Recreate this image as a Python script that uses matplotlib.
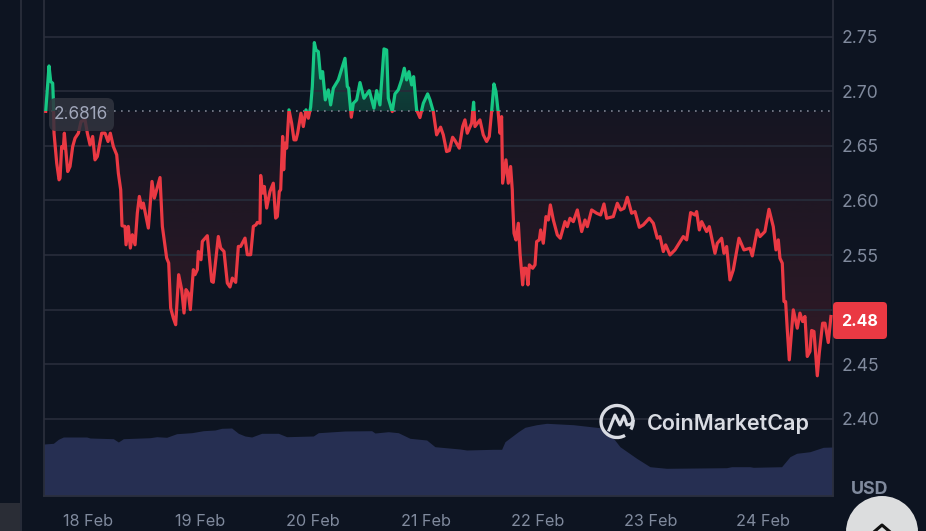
#Price chart with volume underneath, dark theme
import numpy as np
import matplotlib
matplotlib.use("Agg")
import matplotlib.pyplot as plt
from matplotlib.patches import Arc, Circle, FancyBboxPatch, Rectangle

plt.rcParams['font.family'] = ['Inter', 'DejaVu Sans']

#hours since 18 Feb 00:00
hours = [-9.03, -8.32, -7.96, -7.54, -7.39, -7.25, -6.68, -6.18, -5.97, -5.62, -5.26, -5.05, -4.69, -4.34, -3.84, -3.27, -2.77, -2.06, -1.49, -0.64,
    -0.14, 0.43, 0.99, 1.49, 1.99, 2.91, 3.63, 4.27, 4.76, 5.40, 6.12, 6.47, 6.97, 7.25, 7.89, 8.11, 8.60, 9.03, 9.46, 10.03,
    10.52, 10.95, 11.45, 11.80, 12.87, 13.65, 14.15, 14.65, 15.36, 15.86, 16.78, 17.21, 17.63, 18.20, 18.70, 19.34, 19.98, 20.48, 20.90, 21.40,
    21.83, 22.47, 22.82, 23.32, 23.53, 24.10, 24.39, 25.45, 26.38, 26.73, 27.80, 28.30, 29.01, 29.72, 30.29, 30.79, 31.50, 32.07, 32.56, 33.49,
    33.99, 34.70, 35.27, 35.84, 36.12, 36.69, 36.83, 37.26, 37.61, 38.11, 38.82, 39.53, 40.03, 40.39, 40.81, 41.10, 41.52, 41.74, 42.02, 42.38,
    42.87, 43.44, 43.94, 44.37, 44.72, 45.43, 45.93, 46.50, 47.00, 47.49, 47.85, 48.28, 48.63, 49.13, 49.63, 50.05, 50.62, 51.26, 51.76, 52.33,
    53.40, 54.82, 55.32, 55.60, 56.17, 56.60, 57.31, 58.02, 58.87, 60.01, 61.00, 61.57, 62.28, 63.14, 63.71, 64.06, 64.91, 65.48, 66.19, 66.90,
    67.47, 67.97, 68.47, 69.04, 69.46, 70.10, 70.81, 71.53, 72.45, 72.95, 73.66, 74.37, 75.22, 75.79, 76.50, 77.07, 77.78, 78.28, 79.20, 79.92,
    80.41, 80.91, 81.84, 82.26, 82.55, 83.61, 84.32, 85.04, 85.60, 86.10, 86.60, 87.03, 87.45, 87.88, 88.23, 88.45, 89.16, 89.66, 90.15, 90.51,
    90.59, 90.88, 91.30, 91.80, 92.16, 92.72, 93.01, 93.44, 93.86, 94.15, 94.86, 95.36, 95.71, 96.28, 96.56, 97.13, 97.70, 98.20, 98.63, 99.27,
    100.12, 100.76, 101.75, 102.25, 102.82, 103.53, 104.39, 105.31, 106.02, 106.52, 107.44, 108.51, 109.36, 110.07, 110.64, 112.06, 112.92, 113.63, 114.34, 115.05,
    115.97, 116.69, 117.61, 118.46, 119.74, 120.60, 121.45, 122.02, 122.73, 123.23, 124.15, 125.22, 126.99, 127.71, 128.56, 129.48, 129.84, 130.41, 130.91, 131.97,
    132.54, 133.75, 134.25, 135.17, 135.67, 136.24, 136.95, 137.66, 138.87, 139.93, 141.21, 141.71, 142.78, 143.35, 144.41, 145.27, 146.19, 146.76, 147.26, 147.61,
    148.11, 148.47, 148.82, 149.18, 149.60, 150.46, 151.31, 151.88, 152.45, 152.95, 153.44, 154.01, 154.37, 154.87, 155.58, 156.00, 156.72, 157.22, 157.92, 158.49]

price = [2.6816, 2.7232, 2.7089, 2.7074, 2.6921, 2.6616, 2.6342, 2.6189, 2.6204, 2.6494, 2.6479, 2.6616, 2.6433, 2.6265, 2.6311, 2.6494, 2.6570, 2.6616, 2.6723, 2.6738,
    2.6616, 2.6509, 2.6586, 2.6372, 2.6403, 2.6616, 2.6616, 2.6540, 2.6616, 2.6494, 2.6418, 2.6250, 2.6098, 2.5768, 2.5762, 2.5594, 2.5762, 2.5564, 2.5686, 2.5594,
    2.5884, 2.6037, 2.5930, 2.5976, 2.5747, 2.6174, 2.6021, 2.6098, 2.6210, 2.5762, 2.5472, 2.5427, 2.5015, 2.4923, 2.4862, 2.5320, 2.5183, 2.4969, 2.5183, 2.5152,
    2.5000, 2.5366, 2.5320, 2.5366, 2.5533, 2.5457, 2.5625, 2.5677, 2.5259, 2.5250, 2.5670, 2.5564, 2.5533, 2.5243, 2.5207, 2.5289, 2.5250, 2.5579, 2.5579, 2.5655,
    2.5503, 2.5503, 2.5762, 2.5777, 2.5799, 2.5792, 2.6229, 2.6067, 2.6128, 2.5930, 2.6082, 2.6158, 2.5838, 2.5853, 2.6082, 2.6098, 2.6586, 2.6281, 2.6525, 2.6479,
    2.6830, 2.6708, 2.6555, 2.6555, 2.6616, 2.6799, 2.6677, 2.6830, 2.6753, 2.6854, 2.7043, 2.7446, 2.7378, 2.7363, 2.7119, 2.7180, 2.6921, 2.7013, 2.6875, 2.7028,
    2.7104, 2.7302, 2.7043, 2.7028, 2.6762, 2.6890, 2.6921, 2.7080, 2.6936, 2.7006, 2.6845, 2.7006, 2.6875, 2.7388, 2.7378, 2.6936, 2.6814, 2.6976, 2.7013, 2.7104,
    2.7211, 2.7104, 2.7180, 2.7058, 2.7134, 2.6830, 2.6759, 2.6890, 2.6976, 2.6921, 2.6814, 2.6601, 2.6671, 2.6601, 2.6448, 2.6457, 2.6579, 2.6549, 2.6479, 2.6677,
    2.6738, 2.6616, 2.6708, 2.6900, 2.6677, 2.6738, 2.6601, 2.6540, 2.6586, 2.6814, 2.7067, 2.6997, 2.6830, 2.6616, 2.6768, 2.6158, 2.6372, 2.6158, 2.6311, 2.6097,
    2.5974, 2.5699, 2.5638, 2.5791, 2.5516, 2.5227, 2.5379, 2.5379, 2.5227, 2.5410, 2.5379, 2.5410, 2.5623, 2.5639, 2.5730, 2.5608, 2.5852, 2.5821, 2.5959, 2.5821,
    2.5684, 2.5654, 2.5806, 2.5760, 2.5837, 2.5806, 2.5913, 2.5715, 2.5821, 2.5760, 2.5913, 2.5883, 2.5867, 2.5968, 2.5837, 2.5852, 2.5974, 2.5913, 2.5928, 2.6029,
    2.5883, 2.5898, 2.5754, 2.5776, 2.5837, 2.5791, 2.5654, 2.5669, 2.5532, 2.5593, 2.5501, 2.5547, 2.5669, 2.5639, 2.5889, 2.5867, 2.5898, 2.5730, 2.5806, 2.5715,
    2.5760, 2.5516, 2.5608, 2.5654, 2.5516, 2.5578, 2.5272, 2.5364, 2.5654, 2.5547, 2.5562, 2.5492, 2.5730, 2.5669, 2.5715, 2.5919, 2.5760, 2.5547, 2.5639, 2.5471,
    2.5425, 2.5074, 2.5074, 2.4815, 2.4540, 2.4998, 2.4830, 2.4968, 2.4891, 2.4937, 2.4571, 2.4617, 2.4809, 2.4800, 2.4394, 2.4602, 2.4876, 2.4876, 2.4699, 2.4937]

#volume in billions
vol_hours = [-9.39, -7.39, -6.33, -5.26, -0.28, 0.43, 5.40, 6.47, 7.54, 13.22, 14.65, 16.78, 18.91, 22.11, 24.60, 27.09, 28.51, 30.64, 32.07, 33.49,
    34.91, 37.04, 40.60, 42.38, 48.06, 49.13, 54.82, 60.50, 61.22, 64.06, 66.19, 68.68, 72.24, 74.01, 79.35, 80.77, 86.46, 88.24, 88.95, 91.79,
    93.21, 95.70, 97.84, 103.52, 109.21, 110.99, 113.48, 117.03, 119.88, 123.43, 136.23, 137.30, 141.21, 141.92, 147.96, 149.74, 151.16, 154.0, 156.85, 158.93]
volume = [0.520, 0.527, 0.567, 0.590, 0.590, 0.580, 0.573, 0.540, 0.573, 0.583, 0.593, 0.587, 0.623, 0.633, 0.653, 0.660, 0.677, 0.680, 0.627, 0.600,
    0.590, 0.627, 0.627, 0.593, 0.600, 0.633, 0.650, 0.653, 0.630, 0.643, 0.633, 0.577, 0.560, 0.493, 0.470, 0.460, 0.467, 0.467, 0.543, 0.643,
    0.687, 0.713, 0.727, 0.713, 0.683, 0.643, 0.493, 0.377, 0.293, 0.277, 0.283, 0.293, 0.293, 0.287, 0.293, 0.393, 0.427, 0.443, 0.487, 0.490]

base_price = 2.6816
y_ticks = [2.40, 2.45, 2.50, 2.55, 2.60, 2.65, 2.70, 2.75]
y_labels = ["2.40", "2.45", "", "2.55", "2.60", "2.65", "2.70", "2.75"]
x_ticks = [0, 24, 48, 72, 96, 120, 144]
x_labels = ["18 Feb", "19 Feb", "20 Feb", "21 Feb", "22 Feb", "23 Feb", "24 Feb"]

bg = "#0d1421"
grid = "#262b39"
red = "#ea3943"
green = "#16c784"
grey = "#808a9d"

hours = np.array(hours)
price = np.array(price)
W, H = 926, 531
x0, x1, y1 = 44, 833, 496

fig = plt.figure(figsize=(W/100, H/100), dpi=100, facecolor=bg)
pos = [x0/W, (H-y1)/H, (x1-x0)/W, y1/H]

#volume goes under everything else
ax_vol = fig.add_axes(pos, zorder=1)
ax_vol.set_facecolor(bg)
ax_vol.fill_between(vol_hours, volume, 0, color="#262f52", lw=0)
ax_vol.set_xlim(-9.39, 158.93)
ax_vol.set_ylim(0, 4.96)
ax_vol.axis("off")

ax = fig.add_axes(pos, zorder=2)
ax.patch.set_alpha(0)
ax.set_xlim(-9.39, 158.93)
ax.set_ylim(2.3293, 2.7836)
ax.set_yticks(y_ticks)
ax.set_yticklabels(y_labels)
ax.set_xticks(x_ticks)
ax.set_xticklabels(x_labels)
ax.yaxis.tick_right()
ax.tick_params(axis="y", length=0, pad=6.2, labelsize=12.6, labelcolor=grey)
ax.tick_params(axis="x", length=0, pad=13.2, labelsize=11.7, labelcolor=grey)
ax.grid(axis="y", color=grid, lw=1.3, zorder=0)
for s in ["top"]:
    ax.spines[s].set_visible(False)
for s in ["left", "right", "bottom"]:
    ax.spines[s].set_color("#2c303d")
    ax.spines[s].set_linewidth(1.2)

#gradient fills either side of the base price
ramp = np.linspace(0, 1, 256)[:, None]
red_img = np.zeros((256, 1, 4))
red_img[..., :3] = matplotlib.colors.to_rgb(red)
red_img[..., 3] = 0.04 + 0.13*ramp
green_img = np.zeros((256, 1, 4))
green_img[..., :3] = matplotlib.colors.to_rgb(green)
green_img[..., 3] = 0.34 - 0.14*ramp

red_poly = ax.fill_between(hours, np.minimum(price, base_price), base_price, color="none", lw=0)
green_poly = ax.fill_between(hours, np.maximum(price, base_price), base_price, color="none", lw=0)
im = ax.imshow(red_img, extent=[-9.39, 158.93, 2.4394, base_price], origin="upper", aspect="auto", zorder=1)
im.set_clip_path(red_poly.get_paths()[0], transform=ax.transData)
im = ax.imshow(green_img, extent=[-9.39, 158.93, base_price, 2.7446], origin="upper", aspect="auto", zorder=1)
im.set_clip_path(green_poly.get_paths()[0], transform=ax.transData)
ax.set_xlim(-9.39, 158.93)
ax.set_ylim(2.3293, 2.7836)

ax.axhline(base_price, color="#7d8290", lw=1.2, ls=(0, (1, 3.2)), zorder=2)

#same line twice, cut at the base price
line_up, = ax.plot(hours, price, color=green, lw=2.3, zorder=3, solid_joinstyle="round")
line_dn, = ax.plot(hours, price, color=red, lw=2.3, zorder=3, solid_joinstyle="round")
line_up.set_clip_path(Rectangle((-9.39, base_price), 168.32, 0.2, transform=ax.transData))
line_dn.set_clip_path(Rectangle((-9.39, 2.3), 168.32, base_price-2.3, transform=ax.transData))

#page furniture drawn in pixel coordinates
over = fig.add_axes([0, 0, 1, 1], zorder=3)
over.set_xlim(0, W)
over.set_ylim(H, 0)
over.axis("off")
over.plot([20.5, 20.5], [0, H], color="#2c303d", lw=1.2)
over.add_patch(Rectangle((0, 503), 20, 28, color="#2a2d36", lw=0))

over.add_patch(FancyBboxPatch((49, 98), 65, 33, boxstyle="round,pad=0,rounding_size=7", fc="#31343f", ec="none", alpha=0.85, mutation_aspect=1, zorder=4))
over.text(81, 114.5, "2.6816", color="#a1a7bb", fontsize=12.4, ha="center", va="center", zorder=5)

over.add_patch(FancyBboxPatch((835, 304), 50, 33, boxstyle="round,pad=2,rounding_size=4", fc=red, ec="none", zorder=4))
over.text(860, 321, "2.48", color="white", fontsize=11.5, fontweight="bold", ha="center", va="center", zorder=5)

over.text(869.5, 490, "USD", color=grey, fontsize=12.9, fontweight="bold", ha="center", va="center")
over.add_patch(Circle((882, 532), 36, color="#dcddde", lw=0, zorder=6))
over.plot([875, 882, 889], [531, 525, 531], color="#111", lw=2.2, zorder=7)

logo = "#d9dce3"
over.add_patch(Arc((617, 421.5), 32, 32, theta1=-300, theta2=30, color=logo, lw=2.4))
over.plot([609, 615, 620, 624, 627, 631, 633], [430, 415, 425, 416, 425, 424, 421], color=logo, lw=2.2, solid_joinstyle="round")
over.text(647, 424, "CoinMarketCap", color=logo, fontsize=15.5, fontweight="semibold", ha="left", va="center")

fig.savefig("out.png", dpi=100, facecolor=bg)
